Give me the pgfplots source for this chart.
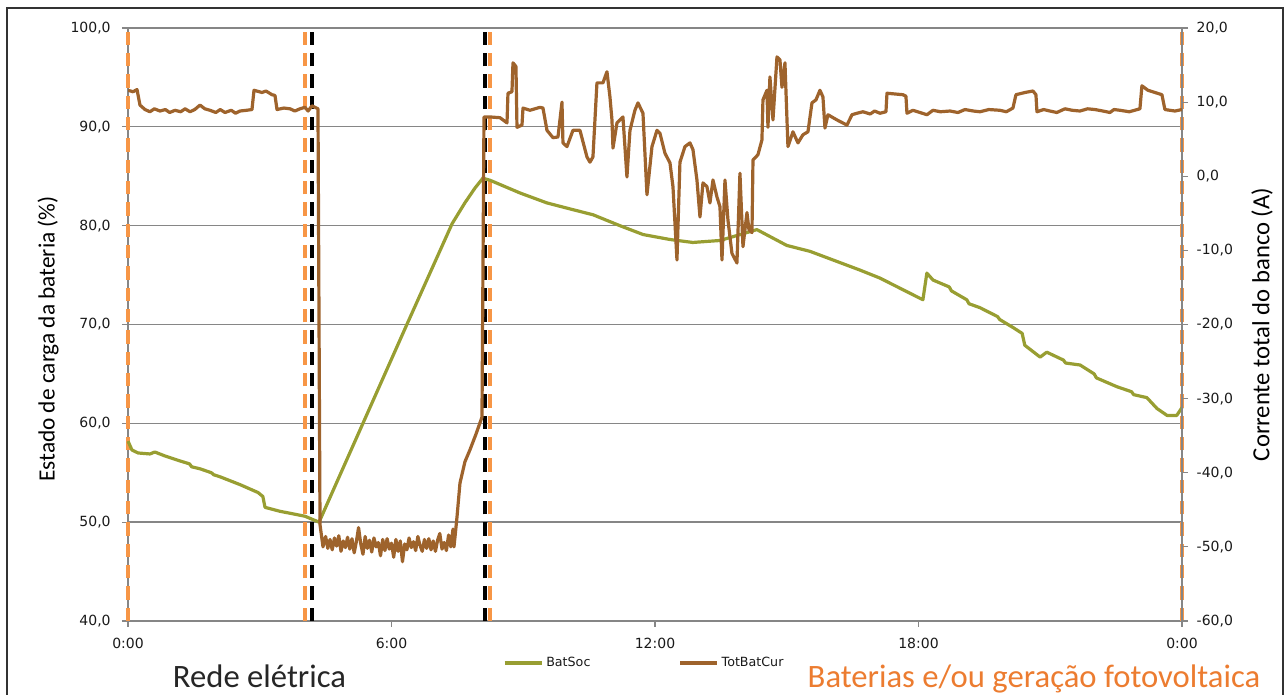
\documentclass[border=0pt]{standalone}
\usepackage{pgfplots}
\pgfplotsset{compat=1.18}
\usepackage{pgfplotstable}
\usepackage{fontspec}
\setmainfont{Carlito}
\newfontfamily\tickfont{DejaVu Sans}
\definecolor{socgreen}{RGB}{152,158,50}
\definecolor{curbrown}{RGB}{158,99,44}
\definecolor{dashorange}{RGB}{247,150,70}
\definecolor{txtorange}{RGB}{236,124,48}
\definecolor{gridgray}{RGB}{134,134,134}

\pgfplotstableread{
h v
0.000 58.2
0.090 57.3
0.230 57.0
0.500 56.9
0.610 57.1
0.840 56.7
1.180 56.2
1.400 55.9
1.450 55.6
1.640 55.4
1.900 55.0
1.950 54.8
2.090 54.6
2.550 53.8
2.960 53.0
3.070 52.6
3.120 51.5
3.460 51.1
3.690 50.9
4.030 50.6
4.350 50.0
5.350 60.0
6.350 70.0
7.380 80.2
7.670 82.3
7.900 83.8
8.080 84.8
8.240 84.6
8.930 83.3
9.540 82.3
10.060 81.7
10.590 81.1
11.200 80.0
11.730 79.1
12.340 78.6
12.860 78.3
13.480 78.5
14.320 79.6
15.000 78.0
15.530 77.4
16.670 75.5
17.120 74.7
18.100 72.5
18.190 75.2
18.330 74.5
18.700 73.8
18.750 73.4
19.100 72.5
19.150 72.1
19.400 71.7
19.800 70.8
19.850 70.5
20.150 69.7
20.360 69.1
20.420 67.9
20.770 66.7
20.920 67.2
21.300 66.4
21.350 66.1
21.680 65.9
22.000 65.0
22.050 64.6
22.520 63.7
22.850 63.2
22.900 62.9
23.200 62.6
23.430 61.5
23.660 60.8
23.880 60.8
24.000 61.6
}\socdata

\pgfplotstableread{
h c
0.000 11.6
0.114 11.4
0.205 11.7
0.273 9.6
0.387 9.0
0.500 8.7
0.600 9.1
0.729 8.8
0.850 9.0
0.950 8.6
1.070 8.9
1.200 8.7
1.300 9.1
1.412 8.7
1.520 9.0
1.639 9.6
1.750 9.1
1.867 8.9
2.000 8.6
2.100 9.0
2.209 8.6
2.350 8.9
2.450 8.5
2.550 8.8
2.700 8.9
2.823 9.0
2.869 11.6
3.051 11.3
3.142 11.5
3.279 11.0
3.347 10.9
3.393 9.0
3.550 9.2
3.689 9.1
3.800 8.8
3.916 9.1
4.030 9.3
4.100 8.8
4.189 9.5
4.326 9.1
4.372 -47.0
4.440 -50.0
4.500 -48.6
4.550 -50.2
4.600 -49.0
4.650 -50.4
4.700 -48.8
4.750 -49.9
4.800 -48.5
4.850 -50.6
4.900 -49.2
4.950 -50.1
5.000 -48.7
5.050 -50.3
5.100 -48.9
5.150 -50.8
5.200 -49.3
5.250 -47.4
5.300 -49.6
5.350 -51.0
5.400 -48.6
5.450 -50.2
5.500 -49.1
5.550 -50.7
5.600 -48.8
5.650 -50.0
5.700 -49.4
5.750 -51.2
5.800 -49.0
5.850 -50.5
5.900 -48.9
5.950 -50.3
6.000 -49.5
6.050 -51.4
6.100 -49.0
6.150 -50.6
6.200 -49.2
6.250 -52.0
6.300 -49.6
6.350 -50.4
6.400 -48.8
6.450 -50.1
6.500 -49.3
6.550 -50.5
6.600 -48.6
6.650 -49.8
6.700 -50.6
6.750 -49.0
6.800 -50.2
6.850 -48.9
6.900 -50.4
6.950 -49.2
7.000 -50.6
7.050 -49.1
7.100 -48.2
7.150 -50.3
7.200 -49.4
7.250 -50.5
7.300 -48.4
7.350 -50.0
7.400 -47.6
7.423 -50.0
7.491 -46.0
7.559 -41.4
7.673 -38.5
7.787 -36.9
7.923 -34.8
8.060 -32.5
8.106 8.0
8.242 8.0
8.470 7.9
8.630 7.2
8.652 11.2
8.743 11.4
8.766 15.3
8.834 14.8
8.857 6.6
8.971 6.9
8.994 9.2
9.153 8.9
9.381 9.3
9.449 9.2
9.540 6.2
9.677 5.2
9.791 5.3
9.882 10.0
9.904 4.5
9.995 4.0
10.132 6.2
10.291 6.2
10.451 2.6
10.519 1.9
10.587 2.6
10.678 12.6
10.815 12.6
10.906 14.1
10.974 10.7
11.020 7.6
11.043 3.8
11.134 7.2
11.270 8.0
11.361 -0.1
11.430 6.2
11.543 8.9
11.612 9.9
11.726 8.5
11.817 -2.5
11.931 4.0
12.045 6.2
12.113 5.8
12.227 3.1
12.341 1.8
12.409 -1.4
12.500 -11.3
12.568 1.9
12.682 4.0
12.796 4.5
12.864 3.6
12.955 -0.5
13.024 -5.5
13.092 -0.9
13.183 -1.4
13.251 -3.6
13.320 -0.5
13.411 -2.8
13.479 -4.1
13.525 -11.3
13.593 -0.5
13.661 -5.9
13.752 -10.4
13.866 -11.7
13.934 0.4
14.003 -9.5
14.094 -4.9
14.139 -7.2
14.208 -7.6
14.231 2.2
14.344 2.9
14.435 4.9
14.458 10.3
14.549 11.6
14.572 6.6
14.617 13.4
14.686 7.6
14.777 16.1
14.845 15.7
14.891 12.0
14.959 15.3
15.027 4.0
15.141 6.0
15.255 4.5
15.369 5.6
15.483 6.0
15.574 9.9
15.665 10.3
15.756 11.6
15.824 10.7
15.870 6.5
15.938 8.3
16.143 7.6
16.371 6.9
16.485 8.3
16.600 8.5
16.735 8.7
16.900 8.4
17.000 8.8
17.122 8.5
17.259 8.7
17.282 11.2
17.646 11.0
17.714 10.8
17.737 8.5
17.873 8.9
18.033 8.6
18.192 8.3
18.329 8.9
18.500 8.7
18.716 8.8
18.900 8.6
19.057 9.0
19.250 8.8
19.399 8.7
19.600 9.0
19.854 8.9
20.000 8.7
20.150 9.2
20.219 11.0
20.424 11.3
20.606 11.5
20.674 11.0
20.697 8.7
20.850 9.0
20.993 8.8
21.150 8.6
21.334 9.1
21.500 8.9
21.676 8.8
21.850 9.1
22.017 9.0
22.200 8.8
22.359 8.6
22.450 9.0
22.587 8.9
22.800 8.7
23.042 9.1
23.087 12.2
23.224 11.6
23.384 11.3
23.543 11.0
23.611 9.0
23.838 8.8
24.000 9.0
}\curdata

\begin{document}
\begin{tikzpicture}
\path[use as bounding box] (0,0) rectangle (963.75pt,521.25pt);
\draw[line width=1.4pt, black!80] (5.25pt,-2pt) -- (5.25pt,515.25pt) -- (962.25pt,515.25pt) -- (962.25pt,-2pt);

\begin{axis}[
  at={(96pt,55.5pt)}, anchor=south west,
  width=790.5pt, height=444.75pt, scale only axis,
  xmin=0, xmax=24, ymin=40, ymax=100,
  clip=false,
  xtick={0,6,12,18,24}, xticklabels={0:00,6:00,12:00,18:00,0:00},
  ytick={40,50,...,100},
  tick pos=left, tick align=outside, major tick length=4.5pt,
  tick style={gridgray, line width=0.8pt},
  axis line style={gridgray, line width=1pt},
  ymajorgrids, grid style={gridgray, line width=1pt},
  tick label style={font=\tickfont\fontsize{10.5}{12}\selectfont, text=black!90},
  xticklabel style={yshift=-5pt},
  yticklabel style={xshift=-5pt, /pgf/number format/fixed, /pgf/number format/fixed zerofill, /pgf/number format/precision=1, /pgf/number format/use comma, /pgf/number format/assume math mode=true},
  ylabel={Estado de carga da bateria (\%)},
  ylabel style={at={(axis description cs:-0.0759,0.4755)}, anchor=center, rotate=0, font=\fontsize{17.5}{21}\selectfont},
]
\addplot[dashorange, line width=2.6pt, dash pattern=on 10pt off 6pt, forget plot] coordinates {(0,40) (0,100)};
\addplot[dashorange, line width=2.6pt, dash pattern=on 10pt off 6pt, forget plot] coordinates {(4.03,40) (4.03,100)};
\addplot[dashorange, line width=2.6pt, dash pattern=on 10pt off 6pt, forget plot] coordinates {(8.24,40) (8.24,100)};
\addplot[dashorange, line width=2.6pt, dash pattern=on 10pt off 6pt, forget plot] coordinates {(24,40) (24,100)};
\addplot[black, line width=2.6pt, dash pattern=on 10pt off 6pt, forget plot] coordinates {(4.19,40) (4.19,100)};
\addplot[black, line width=2.6pt, dash pattern=on 10pt off 6pt, forget plot] coordinates {(8.13,40) (8.13,100)};
\addplot[socgreen, line width=2.4pt, line join=round] table[x=h, y=v] {\socdata};
\end{axis}

\begin{axis}[
  at={(96pt,55.5pt)}, anchor=south west,
  width=790.5pt, height=444.75pt, scale only axis,
  xmin=0, xmax=24, ymin=-60, ymax=20,
  axis y line*=right, axis x line=none,
  ytick={-60,-50,...,20},
  tick align=outside, major tick length=4.5pt,
  tick style={gridgray, line width=0.8pt},
  axis line style={gridgray, line width=1pt},
  tick label style={font=\tickfont\fontsize{10.5}{12}\selectfont, text=black!90},
  yticklabel style={xshift=3pt, /pgf/number format/fixed, /pgf/number format/fixed zerofill, /pgf/number format/precision=1, /pgf/number format/use comma, /pgf/number format/assume math mode=true},
  ylabel={Corrente total do banco (A)},
  ylabel style={at={(axis description cs:1.0759,0.5)}, anchor=center, rotate=0, font=\fontsize{18.5}{22}\selectfont},
  legend style={at={(axis description cs:0.49,0)}, anchor=center, yshift=-31.5pt, draw=none, fill=none,
    legend columns=2, font=\tickfont\fontsize{9.5}{11}\selectfont, text=black!90,
    /tikz/every even column/.append style={column sep=64pt}},
  legend image code/.code={\draw[#1] (0pt,0pt) -- (28pt,0pt);},
]
\addlegendimage{socgreen, line width=2.6pt}
\addlegendentry{BatSoc}
\addplot[curbrown, line width=2.4pt, line join=round] table[x=h, y=c] {\curdata};
\addlegendentry{TotBatCur}
\end{axis}

\node[anchor=base, font=\fontsize{24.5}{29}\selectfont, text=black!85] at (194.6pt,5.5pt) {Rede elétrica};
\node[anchor=base, font=\fontsize{24.5}{29}\selectfont, text=txtorange] at (775.5pt,5.5pt) {Baterias e/ou geração fotovoltaica};
\end{tikzpicture}
\end{document}
